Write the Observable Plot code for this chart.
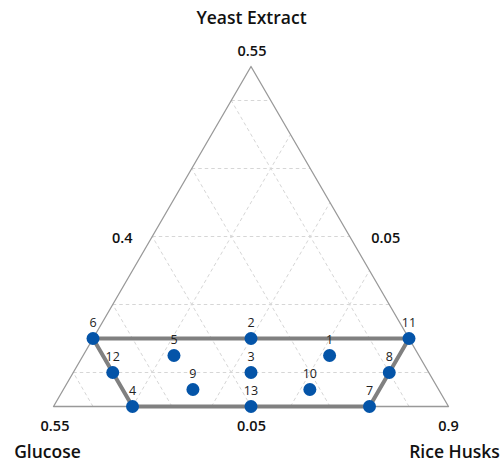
<!DOCTYPE html>
<html>
<head>
<meta charset="utf-8">
<script src="https://cdn.jsdelivr.net/npm/d3@7"></script>
<script src="https://cdn.jsdelivr.net/npm/@observablehq/plot@0.6"></script>
<style>
  body { margin: 0; background: #fff; }
  #chart svg { display: block; }
</style>
</head>
<body>
<div id="chart"></div>
<script>
// Component bounds (actual proportions)
const componentNames = ["Yeast Extract", "Glucose", "Rice Husks"];
const lowerBounds = [0.05, 0.05, 0.4];
const span = 0.5;

// Design points: run labels and their proportions
const runLabels = ["1", "2", "3", "4", "5", "6", "7", "8", "9", "10", "11", "12", "13"];
const yeastValues   = [0.125, 0.15, 0.10, 0.05, 0.125, 0.15, 0.05, 0.10, 0.075, 0.075, 0.15, 0.10, 0.05];
const glucoseValues = [0.163, 0.25, 0.275, 0.45, 0.36, 0.45, 0.15, 0.10, 0.361, 0.213, 0.05, 0.45, 0.30];
const riceValues    = [0.712, 0.60, 0.625, 0.50, 0.515, 0.40, 0.80, 0.80, 0.564, 0.712, 0.80, 0.45, 0.65];

// Boundary of the constrained region (runs, in order)
const hullOrder = ["6", "2", "11", "8", "7", "13", "4", "12", "6"];

// Grid levels (actual proportions)
const gridYeast = [0.1, 0.2, 0.3, 0.4, 0.5];
const gridGlucose = [0.1, 0.2, 0.3, 0.4, 0.5];
const gridRice = [0.5, 0.6, 0.7, 0.8];

// Tick labels
const vertexLabels = ["0.55", "0.55", "0.9"];   // Yeast max (top), Glucose max (left), Rice max (right)
const edgeLabels = ["0.4", "0.05", "0.05"];     // left edge (Rice min), right edge (Glucose min), bottom edge (Yeast min)

const S3 = Math.sqrt(3) / 2;
// ternary -> cartesian (pseudo components)
function cart(y, g, r) {
  const yp = (y - lowerBounds[0]) / span;
  const rp = (r - lowerBounds[2]) / span;
  return [rp + yp / 2, yp * S3];
}
const maxY = lowerBounds[0] + span, maxG = lowerBounds[1] + span, maxR = lowerBounds[2] + span;

const points = runLabels.map((lab, i) => {
  const [x, y] = cart(yeastValues[i], glucoseValues[i], riceValues[i]);
  return {label: lab, x, y};
});
const byLabel = new Map(points.map(p => [p.label, p]));
const hull = hullOrder.map(l => byLabel.get(l));

// Triangle vertices
const vTop = cart(maxY, lowerBounds[1], lowerBounds[2]);
const vLeft = cart(lowerBounds[0], maxG, lowerBounds[2]);
const vRight = cart(lowerBounds[0], lowerBounds[1], maxR);
const tri = [vTop, vLeft, vRight, vTop].map(([x, y]) => ({x, y}));

// Grid segments
const grid = [];
for (const v of gridYeast) {
  const a = cart(v, 1 - v - lowerBounds[2], lowerBounds[2]);
  const b = cart(v, lowerBounds[1], 1 - v - lowerBounds[1]);
  grid.push({x1: a[0], y1: a[1], x2: b[0], y2: b[1]});
}
for (const v of gridGlucose) {
  const a = cart(lowerBounds[0], v, 1 - v - lowerBounds[0]);
  const b = cart(1 - v - lowerBounds[2], v, lowerBounds[2]);
  grid.push({x1: a[0], y1: a[1], x2: b[0], y2: b[1]});
}
for (const v of gridRice) {
  const a = cart(lowerBounds[0], 1 - v - lowerBounds[0], v);
  const b = cart(1 - v - lowerBounds[1], lowerBounds[1], v);
  grid.push({x1: a[0], y1: a[1], x2: b[0], y2: b[1]});
}

const mid = (p, q) => [(p[0] + q[0]) / 2, (p[1] + q[1]) / 2];
const tickText = [
  {x: vTop[0], y: vTop[1], t: vertexLabels[0], dx: 1, dy: -15},
  {x: vLeft[0], y: vLeft[1], t: vertexLabels[1], dx: 1.5, dy: 20},
  {x: vRight[0], y: vRight[1], t: vertexLabels[2], dx: 0, dy: 20},
  {x: mid(vLeft, vTop)[0], y: mid(vLeft, vTop)[1], t: edgeLabels[0], dx: -30, dy: 2},
  {x: mid(vRight, vTop)[0], y: mid(vRight, vTop)[1], t: edgeLabels[1], dx: 36, dy: 2},
  {x: mid(vLeft, vRight)[0], y: mid(vLeft, vRight)[1], t: edgeLabels[2], dx: 0.5, dy: 20}
];
const titleText = [
  {x: vTop[0], y: vTop[1], t: componentNames[0], dx: 0.5, dy: -48},
  {x: vLeft[0], y: vLeft[1], t: componentNames[1], dx: -6, dy: 46},
  {x: vRight[0], y: vRight[1], t: componentNames[2], dx: 6, dy: 46}
];

const FONT = "'Open Sans', 'Noto Sans', sans-serif";

const chart = Plot.plot({
  width: 504,
  height: 463,
  x: {domain: [0, 1], range: [53, 448], axis: null},
  y: {domain: [0, S3], range: [406, 66], axis: null},
  style: {fontFamily: FONT, background: "#fff"},
  marks: [
    Plot.link(grid, {x1: "x1", y1: "y1", x2: "x2", y2: "y2", stroke: "#d6d6d6", strokeWidth: 1, strokeDasharray: "3.5,3"}),
    Plot.line(tri, {x: "x", y: "y", stroke: "#999999", strokeWidth: 1.3}),
    Plot.line(hull, {x: "x", y: "y", stroke: "#808080", strokeWidth: 4, strokeLinejoin: "round"}),
    Plot.dot(points, {x: "x", y: "y", r: 6.5, fill: "#0454a8", stroke: "none"}),
    Plot.text(points, {x: "x", y: "y", text: "label", dy: -16, fontSize: 12.5, fill: "#222"}),
    ...tickText.map(d => Plot.text([d], {x: "x", y: "y", text: "t", dx: d.dx, dy: d.dy, fontSize: 14.5, fontWeight: 600, fill: "#111"})),
    ...titleText.map(d => Plot.text([d], {x: "x", y: "y", text: "t", dx: d.dx, dy: d.dy, fontSize: 17.5, fontWeight: 600, fill: "#111"}))
  ]
});
document.getElementById("chart").appendChild(chart);
</script>
</body>
</html>
